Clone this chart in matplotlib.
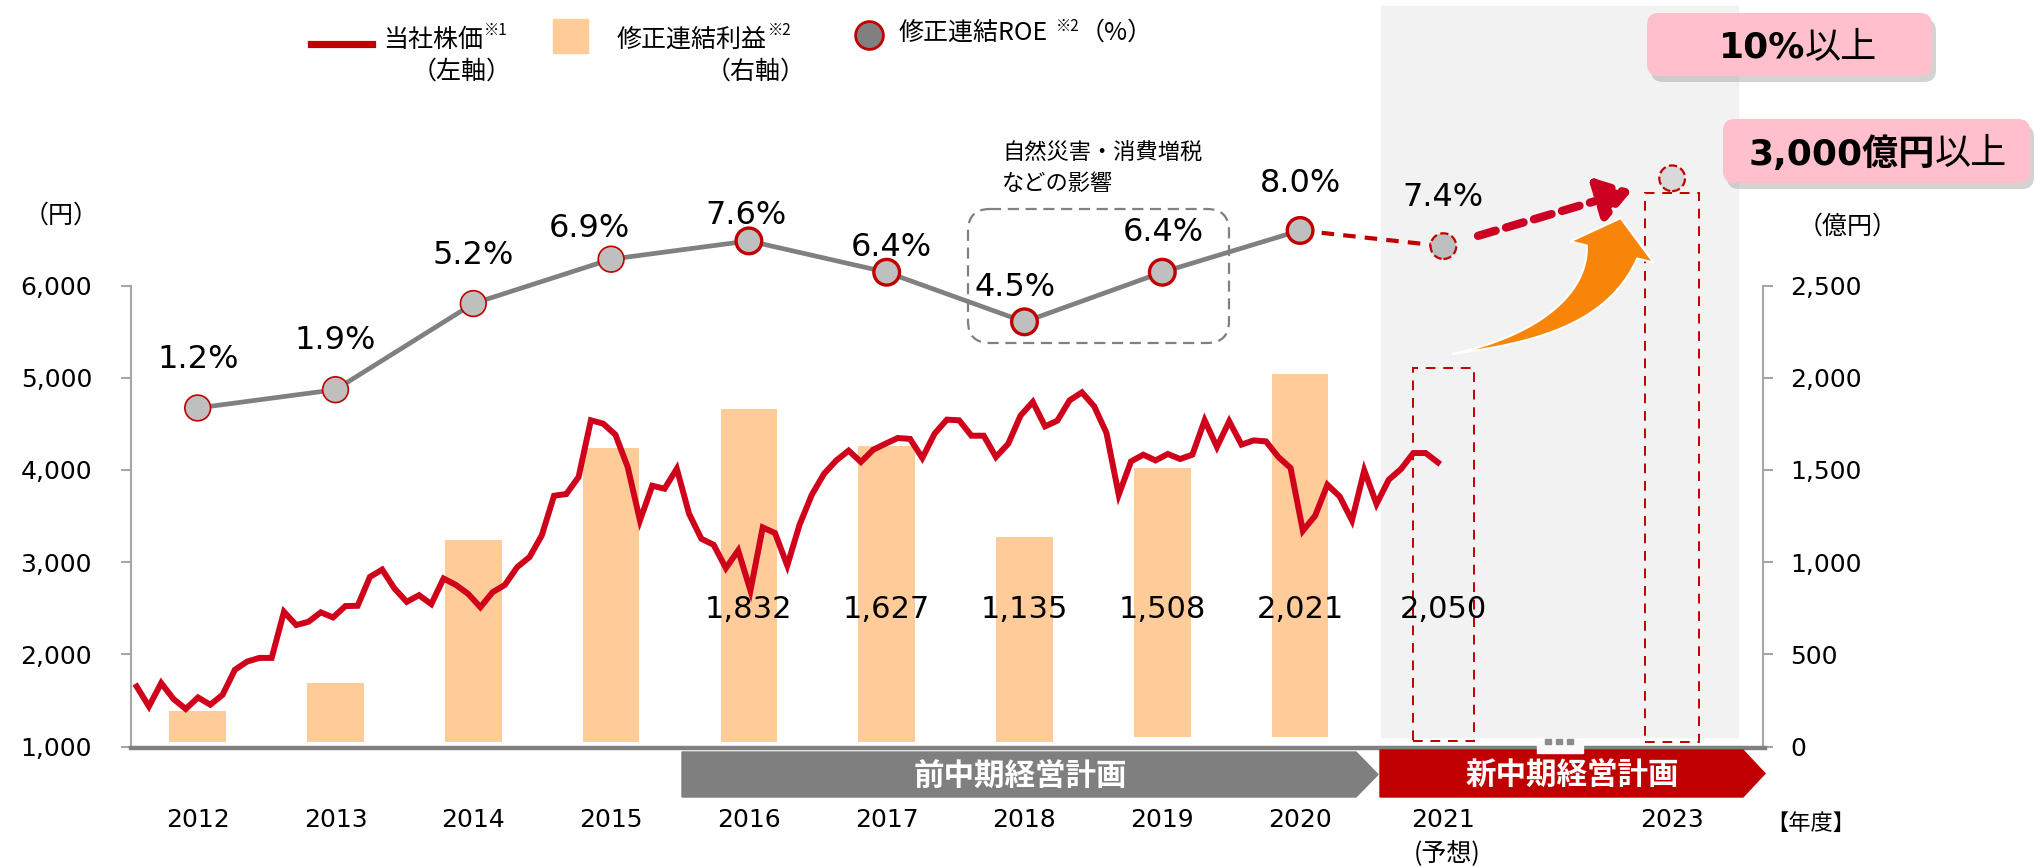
import numpy as np
import matplotlib
matplotlib.use('Agg')
import matplotlib.pyplot as plt
import matplotlib.transforms as mtransforms
from matplotlib.patches import FancyBboxPatch, Polygon, Rectangle
from matplotlib.lines import Line2D

# ---- data ---------------------------------------------------------------
years = ['2012', '2013', '2014', '2015', '2016', '2017', '2018', '2019', '2020', '2021', '2023']
profit = [193, 345, 1118, 1618, 1832, 1627, 1135, 1508, 2021, 2050, 3000]   # 修正連結利益 (億円)
roe = [1.2, 1.9, 5.2, 6.9, 7.6, 6.4, 4.5, 6.4, 8.0, 7.4, 10.0]               # 修正連結ROE (%)
stock = [1651, 1435, 1688, 1515, 1407, 1532, 1453, 1561, 1832, 1921, 1961, 1961,
         2461, 2317, 2353, 2455, 2400, 2523, 2526, 2839, 2919, 2714, 2569, 2641,
         2544, 2822, 2753, 2656, 2511, 2674, 2753, 2946, 3054, 3289, 3720, 3738,
         3923, 4538, 4502, 4382, 4031, 3452, 3828, 3796, 4013, 3524, 3253, 3188,
         2935, 3126, 2692, 3376, 3315, 2963, 3405, 3731, 3959, 4103, 4209, 4086,
         4219, 4284, 4346, 4336, 4129, 4393, 4545, 4538, 4371, 4371, 4140, 4284,
         4589, 4737, 4472, 4534, 4755, 4841, 4690, 4401, 3731, 4092, 4165, 4103,
         4173, 4118, 4165, 4538, 4249, 4527, 4274, 4320, 4309, 4140, 4021, 3340,
         3503, 3839, 3712, 3452, 3995, 3630, 3894, 4010, 4183, 4183, 4081]  # 当社株価 (円)

# ---- layout -------------------------------------------------------------
W, H = 2035, 867
x_pos = [0, 1, 2, 3, 4, 5, 6, 7, 8, 9.04, 10.7]
bar_base = [25, 25, 25, 25, 25, 25, 25, 52, 52, 30, 22]
roe_off = [(0, 48), (0, 49), (0, 48), (-22, 31), (-3, 25), (5, 25), (-9, 34), (1, 40), (0, 47), (0, 49)]

RED = '#C00000'
LINE_RED = '#D0021B'
GRAY = '#808080'
JP = ['Noto Sans CJK JP', 'DejaVu Sans']
plt.rcParams['font.family'] = ['DejaVu Sans', 'Noto Sans CJK JP']

fig = plt.figure(figsize=(W / 100, H / 100), dpi=100)
T = mtransforms.Affine2D().scale(1, -1).translate(0, H)   # pixel coords, y from top
renderer = fig.canvas.get_renderer()

ax = fig.add_axes([131 / W, (H - 746.5) / H, (1762.8 - 131) / W, 746.5 / H])
ax_r = ax.twinx()
ax_roe = ax.twinx()
for a, z in ((ax_r, 1), (ax, 2), (ax_roe, 3)):
    a.set_zorder(z)
    a.patch.set_visible(False)

px_per_unit = 0.0922
ax.set_xlim((131 - 197.7) / 137.8, (1762.8 - 197.7) / 137.8)
ax.set_ylim(1000, 1000 + 746.5 / px_per_unit)
ax_r.set_ylim(0, (746.5 / px_per_unit) / 2)
a_roe, b_roe = 4332, 283.1
ax_roe.set_ylim((ax.get_ylim()[0] - a_roe) / b_roe, (ax.get_ylim()[1] - a_roe) / b_roe)

# forecast shading
fig.add_artist(Rectangle((1381, 6), 356.5, 731, transform=T, color='#F2F2F2', zorder=-1))

# bars (right axis)
ax_r.bar(x_pos[:9], [p - b for p, b in zip(profit[:9], bar_base[:9])], bottom=bar_base[:9],
         width=0.41, color='#FFCC99', zorder=2)
ax_r.bar(x_pos[9:], [p - b for p, b in zip(profit[9:], bar_base[9:])], bottom=bar_base[9:],
         width=[0.44, 0.39], fill=False, edgecolor=RED, linestyle=(0, (5, 4)), linewidth=1.4, zorder=2)
lab_tr = mtransforms.blended_transform_factory(ax_r.transData, T)
for i in range(4, 10):
    ax_r.text(x_pos[i], 610, f'{profit[i]:,}', transform=lab_tr, ha='center', va='center',
              fontsize=22, zorder=4)

# stock price line (left axis)
xs = np.linspace(-0.443, 9.0, len(stock))
ax.plot(xs, stock, color=LINE_RED, lw=4.3, solid_joinstyle='miter', zorder=3)

# ROE line + markers
ax_roe.plot(x_pos[:9], roe[:9], color=GRAY, lw=3.4, zorder=2)
ax_roe.plot(x_pos[8:10], roe[8:10], color=RED, lw=3, ls=(0, (3, 2.2)), zorder=2)
ax_roe.scatter(x_pos[:9], roe[:9], s=18.5 ** 2, c='#BFBFBF', edgecolors=RED,
               linewidths=[1.2] * 4 + [2.4] * 5, zorder=4)
ax_roe.scatter(x_pos[9:10], roe[9:10], s=18.5 ** 2, c='#BFBFBF', edgecolors=RED,
               linewidths=1.6, linestyles='--', zorder=4)
ax_roe.scatter(x_pos[10:], roe[10:], s=18.5 ** 2, c='#D9D9D9', edgecolors=RED,
               linewidths=1.6, linestyles='--', zorder=4)
for i in range(10):
    dx, dy = roe_off[i]
    ax_roe.annotate(f'{roe[i]}%', (x_pos[i], roe[i]), xytext=(dx * 0.72, dy * 0.72),
                    textcoords='offset points', ha='center', va='center', fontsize=23, zorder=5)
ax_roe.annotate('', xy=(x_pos[10], roe[10]), xytext=(x_pos[9], roe[9]),
                arrowprops=dict(arrowstyle='-|>,head_length=0.75,head_width=0.5', lw=6,
                                linestyle=(0, (2.2, 1.3)), color='#CC0022',
                                shrinkA=26, shrinkB=30, mutation_scale=26), zorder=5)

# axes styling
ax.set_yticks([1000, 2000, 3000, 4000, 5000, 6000])
ax.set_yticklabels([f'{v:,}' for v in range(1000, 7000, 1000)], fontsize=18)
ax_r.set_yticks([0, 500, 1000, 1500, 2000, 2500])
ax_r.set_yticklabels([f'{v:,}' for v in range(0, 3000, 500)], fontsize=18)
ax.tick_params(axis='y', length=7, width=1.5, color='#A6A6A6', pad=21)
ax_r.tick_params(axis='y', length=7, width=1.5, color='#A6A6A6', pad=13)
ax.set_xticks(x_pos)
ax.set_xticklabels(years, fontsize=18)
ax.tick_params(axis='x', length=0, pad=44)
for a in (ax, ax_r, ax_roe):
    for s in a.spines.values():
        s.set_visible(False)
ax.spines['left'].set_visible(True)
ax.spines['left'].set_bounds(1000, 6000)
ax.spines['left'].set_color('#A6A6A6')
ax.spines['left'].set_linewidth(1.5)
ax_r.spines['right'].set_visible(True)
ax_r.spines['right'].set_bounds(0, 2500)
ax_r.spines['right'].set_color('#A6A6A6')
ax_r.spines['right'].set_linewidth(1.5)
ax_roe.set_yticks([])
ax_roe.tick_params(right=False, labelright=False)
ax_r.tick_params(axis='x', bottom=False, labelbottom=False)

# bottom axis line with break
fig.add_artist(Line2D([131, 1765], [747.5, 747.5], transform=T, color=GRAY, lw=3.2, zorder=4))
fig.add_artist(Rectangle((1537, 741), 46, 12, transform=T, color='#FAFAFA', zorder=4.5))
for bx in (1545, 1556, 1567):
    fig.add_artist(Rectangle((bx, 739), 6, 5, transform=T, color='#8C8C8C', zorder=4.6))


def ptext(x, y, s, **kw):
    kw.setdefault('zorder', 6)
    return fig.text(x, y, s, transform=T, **kw)


def chain(x, y, parts):
    # place text pieces one after another, left to right
    for s, dy, gap, kw in parts:
        t = ptext(x + gap, y + dy, s, ha='left', va='center', **kw)
        x = t.get_window_extent(renderer).x1


# plan bands
fig.add_artist(Polygon([(682, 752), (1356, 752), (1378, 774.5), (1356, 797), (682, 797)],
                       closed=True, transform=T, color='#7F7F7F', zorder=4))
fig.add_artist(Polygon([(1380, 750), (1743, 750), (1765, 773.5), (1743, 797), (1380, 797)],
                       closed=True, transform=T, color=RED, zorder=4))
ptext(1020, 777, '前中期経営計画', family=JP, fontsize=22, weight='bold', color='white',
      ha='center', va='center')
ptext(1572, 776, '新中期経営計画', family=JP, fontsize=22, weight='bold', color='white',
      ha='center', va='center')
ptext(1447, 853, '(予想)', family=JP, fontsize=18, ha='center', va='center')
ptext(1811, 823, '【年度】', family=JP, fontsize=16, ha='center', va='center')

# unit labels
ptext(61, 216, '（円）', family=JP, fontsize=18, ha='center', va='center')
ptext(1848, 227, '（億円）', family=JP, fontsize=18, ha='center', va='center')

# legend
big = dict(family=JP, fontsize=18)
sup = dict(family=JP, fontsize=11)
fig.add_artist(Line2D([311, 372], [44, 44], transform=T, color=RED, lw=5.2, zorder=6))
chain(383, 40, [('当社株価', 0, 0, big), ('※1', -10, 1, sup)])
ptext(462, 72, '（左軸）', ha='center', va='center', **big)
fig.add_artist(Rectangle((553, 19), 35, 34, transform=T, color='#FFCC99', zorder=6))
chain(617, 40, [('修正連結利益', 0, 0, big), ('※2', -10, 1, sup)])
ptext(756, 72, '（右軸）', ha='center', va='center', **big)
fig.add_artist(Line2D([869], [35], transform=T, marker='o', ms=20, mfc=GRAY, mec=RED, mew=2,
                      zorder=6))
chain(899, 33, [('修正連結ROE', 0, 0, big), ('※2', -7, 8, sup), ('（%）', 0, 0, big)])

# 2018-2019 note
fig.add_artist(FancyBboxPatch((968, 209), 261, 134, boxstyle='round,pad=0,rounding_size=22',
                              transform=T, fill=False, ec=GRAY, lw=1.6, ls=(0, (5, 3)), zorder=5))
ptext(1002, 153, '自然災害・消費増税', family=JP, fontsize=16, ha='left', va='center')
ptext(1002, 183, 'などの影響', family=JP, fontsize=16, ha='left', va='center')

# orange growth arrow
P0, P1, P2 = np.array([1452, 354.0]), np.array([1592, 330.0]), np.array([1612, 252.0])
t = np.linspace(0, 1, 50)[:, None]
B = (1 - t) ** 2 * P0 + 2 * (1 - t) * t * P1 + t ** 2 * P2
D = 2 * (1 - t) * (P1 - P0) + 2 * t * (P2 - P1)
D = D / np.linalg.norm(D, axis=1, keepdims=True)
N = np.column_stack([-D[:, 1], D[:, 0]])
hw = 26 * t ** 1.3
side_a, side_b = B + N * hw, B - N * hw
tip = P2 + D[-1] * 35
arrow_pts = np.vstack([side_a, P2 + N[-1] * 43, tip, P2 - N[-1] * 43, side_b[::-1]])
fig.add_artist(Polygon(arrow_pts, closed=True, transform=T, fc='#F7850A', ec='white', lw=1.5,
                       zorder=4))

# target boxes
for (bx, by, bw, bh) in ((1647, 13, 285, 63), (1723, 119, 307, 64)):
    fig.add_artist(FancyBboxPatch((bx + 4, by + 6), bw, bh, boxstyle='round,pad=0,rounding_size=12',
                                  transform=T, fc='#9E9E9E', ec='none', alpha=0.45, zorder=6))
    fig.add_artist(FancyBboxPatch((bx, by), bw, bh, boxstyle='round,pad=0,rounding_size=12',
                                  transform=T, fc='#FFC0CB', ec='none', zorder=6.5))
ptext(1805, 48, '10%', fontsize=26, weight='bold', ha='right', va='center', zorder=7)
ptext(1805, 48, '以上', family=JP, fontsize=26, ha='left', va='center', zorder=7)
ptext(1935, 154, '3,000億円', fontsize=26, weight='bold', ha='right', va='center', zorder=7)
ptext(1935, 154, '以上', family=JP, fontsize=26, ha='left', va='center', zorder=7)

fig.savefig('out.png', dpi=100)
